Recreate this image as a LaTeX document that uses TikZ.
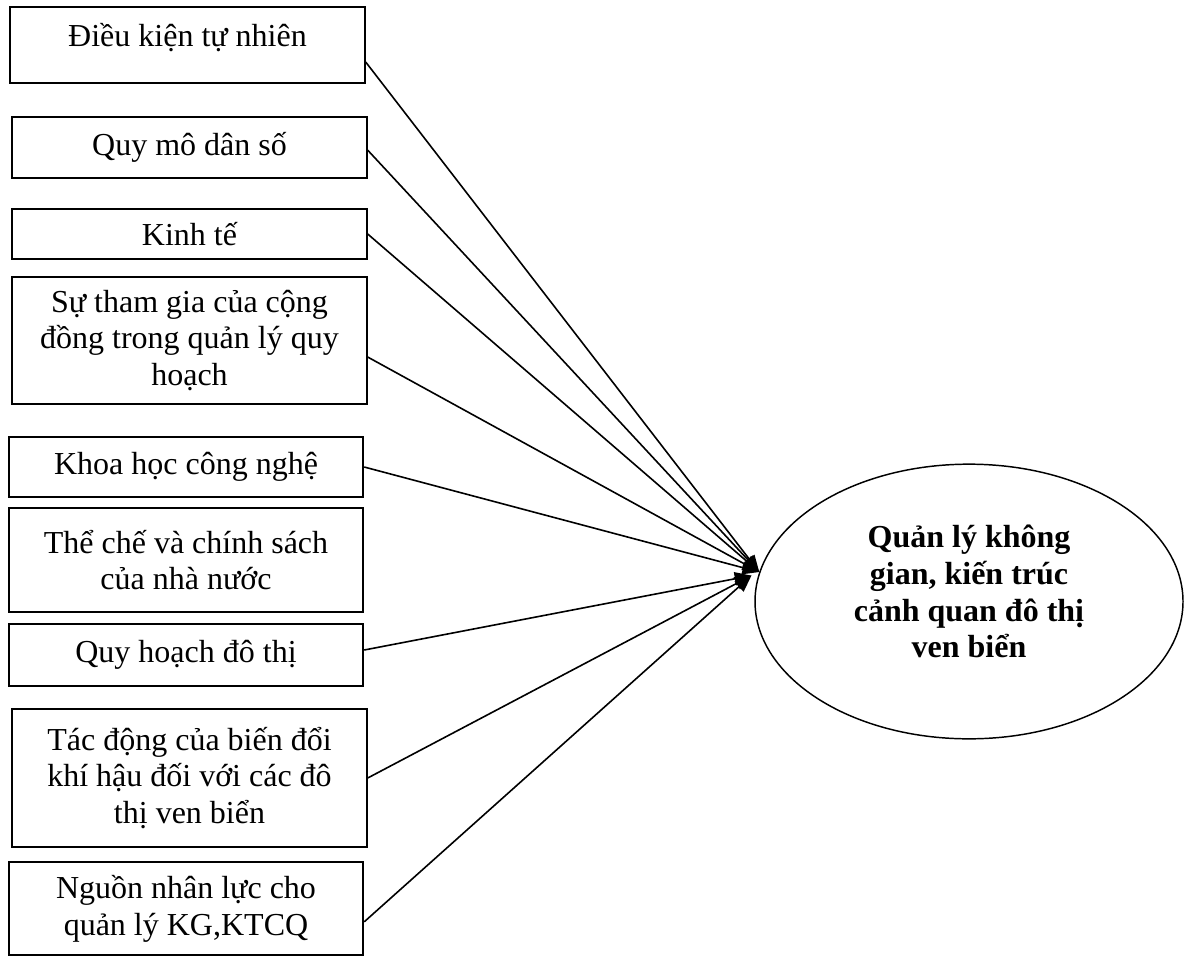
\documentclass[tikz,border=0pt]{standalone}
\usepackage{fontspec}
\setmainfont{Liberation Serif}
\usetikzlibrary{arrows.meta,shapes.geometric}

\begin{document}
\begin{tikzpicture}[x=0.75pt,y=-0.75pt,
  factor/.style={draw,line width=1.3pt,minimum width=266pt,inner sep=0pt,
    align=center,font=\fontsize{24}{27.6}\selectfont},
  goal/.style={draw,ellipse,line width=1.1pt,minimum width=321pt,
    minimum height=206pt,inner sep=0pt,align=center,
    font=\fontsize{24}{27.6}\selectfont\bfseries},
  link/.style={line width=1.2pt,-{Triangle[length=12.5pt,width=10pt]}}]

\useasboundingbox (0,0) rectangle (1194,956);

% influencing factors
\node[factor,minimum height=57pt,text depth=15pt] (b1) at (187.5,45) {Điều kiện tự nhiên};
\node[factor,minimum height=45.75pt] (b2) at (189.5,147.5) {Quy mô dân số};
\node[factor,minimum height=37.5pt] (b3) at (189.5,234) {Kinh tế};
\node[factor,minimum height=95.25pt] (b4) at (189.5,340.5)
  {Sự tham gia của cộng\\đồng trong quản lý quy\\hoạch};
\node[factor,minimum height=45pt] (b5) at (186,467) {Khoa học công nghệ};
\node[factor,minimum height=78pt] (b6) at (186,560)
  {Thể chế và chính sách\\của nhà nước};
\node[factor,minimum height=46.5pt] (b7) at (186,655) {Quy hoạch đô thị};
\node[factor,minimum height=103.5pt] (b8) at (189.5,778)
  {Tác động của biến đổi\\khí hậu đối với các đô\\thị ven biển};
\node[factor,minimum height=69.75pt] (b9) at (186,908.5)
  {Nguồn nhân lực cho\\quản lý KG,KTCQ};

% central outcome
\node[goal,text depth=15pt] (g) at (969,601.5)
  {Quản lý không\\gian, kiến trúc\\cảnh quan đô thị\\ven biển};

% arrows into the outcome
\coordinate (tipA) at (g.172);
\coordinate (tipB) at ([xshift=-5pt]g.173);

\draw[link] ([yshift=-12.75pt]b1.east) -- (tipA);
\draw[link] ([yshift=-2pt]b2.east) -- (tipA);
\draw[link] (b3.east) -- (tipA);
\draw[link] ([yshift=-12.4pt]b4.east) -- (tipA);
\draw[link] (b5.east) -- (tipA);
\draw[link] ([yshift=3.75pt]b7.east) -- (tipB);
\draw[link] (b8.east) -- (tipB);
\draw[link] ([yshift=-10pt]b9.east) -- (tipB);
\end{tikzpicture}
\end{document}
